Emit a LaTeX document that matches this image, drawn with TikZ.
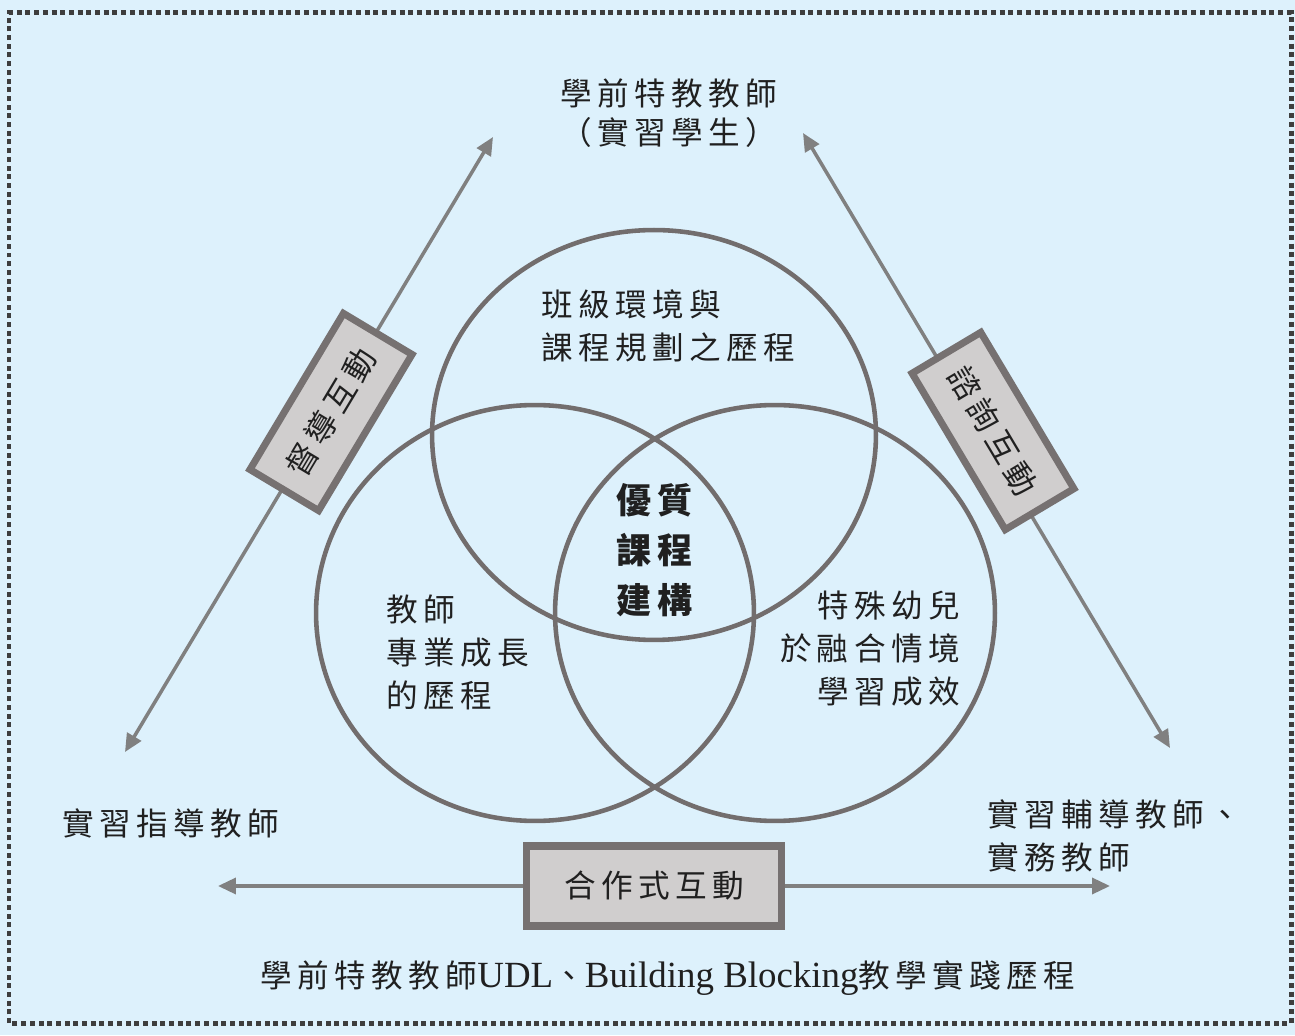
\documentclass[tikz,border=0pt]{standalone}
\usepackage{fontspec}
\setmainfont{Liberation Serif}
\newfontfamily\cjk[LetterSpace=17]{Noto Sans CJK TC}
\usetikzlibrary{arrows.meta, positioning, calc}

\definecolor{bgblue}{RGB}{221,241,252}
\definecolor{framegray}{RGB}{62,62,62}
\definecolor{ringgray}{RGB}{114,109,109}
\definecolor{arrowgray}{RGB}{128,128,128}
\definecolor{boxedge}{RGB}{118,113,113}
\definecolor{boxfill}{RGB}{208,206,206}
\definecolor{inkgray}{RGB}{32,32,32}

\begin{document}
\begin{tikzpicture}[x=0.02cm, y=0.02cm, >={Triangle[length=0.36cm, width=0.32cm]}, font=\cjk\fontsize{18}{24.5}\selectfont]
  \tikzstyle{ring}=[draw=ringgray, line width=2.6pt]
  \tikzstyle{duplex}=[<->, draw=arrowgray, fill=arrowgray, line width=2pt]
  \tikzstyle{linkbox}=[draw=boxedge, line width=4pt, fill=boxfill, text=inkgray, minimum width=3.64cm, minimum height=1.6cm, inner sep=0pt]
  \tikzstyle{notetext}=[inner sep=0pt, text=inkgray]

  % background and dotted frame
  \fill[bgblue] (0,0) rectangle (1295,1035);
  \draw[framegray, line width=0.1cm, dash pattern=on 0.1cm off 0.074cm] (9,12) rectangle (1291,1022);

  % three overlapping circles
  \draw[ring] (654,600) ellipse (4.44cm and 4.1cm);
  \draw[ring] (535,422) ellipse (4.38cm and 4.16cm);
  \draw[ring] (775,422) ellipse (4.4cm and 4.16cm);

  % the three partners
  \node[notetext] (trainee) at (669,942) {學前特教教師};
  \node[notetext, below=0.18cm of trainee] (traineesub) {（實習學生）};
  \node[notetext] (supervisor) at (171,212) {實習指導教師};
  \node[notetext, align=left, anchor=west] (mentor) at (987,199) {實習輔導教師、\\實務教師};

  % arrow ends
  \coordinate (suplo) at (125,283);
  \coordinate (suphi) at (493,898);
  \coordinate (conhi) at (803,902);
  \coordinate (conlo) at (1170,287);
  \coordinate (coopl) at (218,149);
  \coordinate (coopr) at (1110,149);

  \draw[duplex] (suplo) -- (suphi);
  \draw[duplex] (conhi) -- (conlo);
  \draw[duplex] (coopl) -- (coopr);

  % interaction boxes
  \node[linkbox, rotate=59.1] (supbox) at (331,623) {督導互動};
  \node[linkbox, rotate=-59.2] (conbox) at (993,604) {諮詢互動};
  \node[linkbox, minimum width=5.1cm] (coopbox) at (654,149) {合作式互動};

  % circle texts
  \node[notetext, align=left, anchor=west] (plan) at (541,709) {班級環境與\\課程規劃之歷程};
  \node[notetext, align=left, anchor=west] (growth) at (386,383) {教師\\專業成長\\的歷程};
  \node[notetext, align=right, anchor=east] (outcome) at (960,386) {特殊幼兒\\於融合情境\\學習成效};
  \node[notetext, align=center, font=\cjk\bfseries\fontsize{20}{28.5}\selectfont] (core) at (655,485) {優質\\課程\\建構};

  % caption
  \node[notetext, font=\fontsize{21}{24}\selectfont] (practice) at (668,57) {{\cjk\fontsize{18}{24}\selectfont 學前特教教師}UDL{\cjk\fontsize{18}{24}\selectfont 、}Building Blocking{\cjk\fontsize{18}{24}\selectfont 教學實踐歷程}};
\end{tikzpicture}
\end{document}
